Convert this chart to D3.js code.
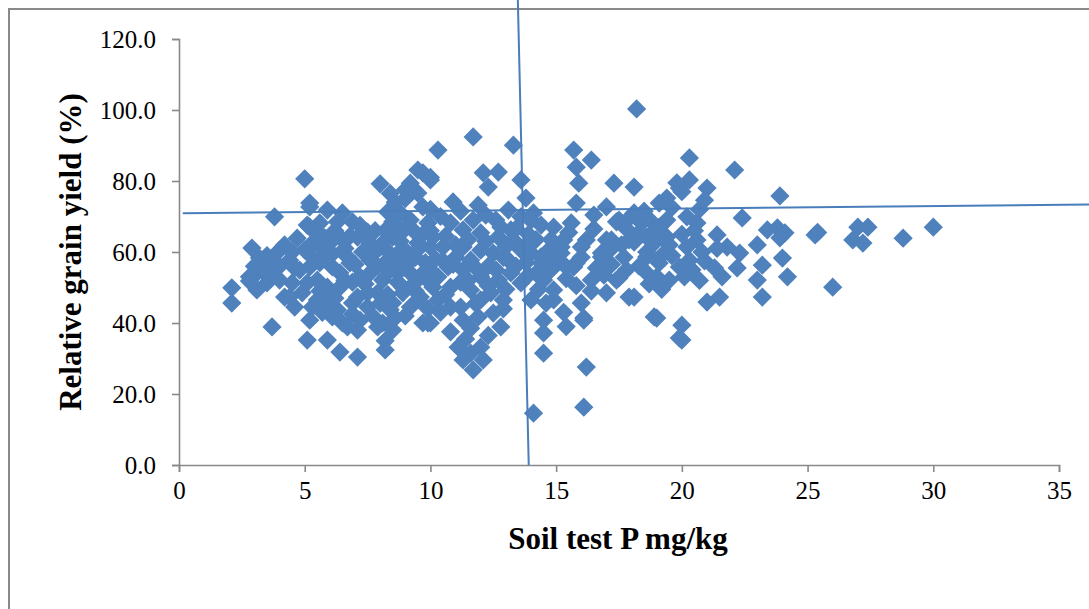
<!DOCTYPE html>
<html><head><meta charset="utf-8">
<script src="https://cdn.jsdelivr.net/npm/d3@7"></script>
<style>
html,body{margin:0;padding:0;background:#fff;overflow:hidden}
svg{display:block}
</style></head><body>
<svg id="c" width="1089" height="609"></svg>
<script>
const xTicks = [0,5,10,15,20,25,30,35];
const yTicks = [0,20,40,60,80,100,120];
const xTitle = "Soil test P mg/kg";
const yTitle = "Relative grain yield (%)";
// vertical critical-level line and horizontal trend line, [soil P, yield]
const vLine = [[13.91,0],[13.47,133]];
const hLine = [[0.15,70.9],[36.6,73.4]];
// observations [soil test P (mg/kg), relative grain yield (%)]
const lowP = [[2.1,45.6],[2.1,49.9],[2.8,53.0],[2.9,61.1],[3.2,58.3],[3.1,49.3],[2.9,52.7],[3.4,54.1],[3.7,38.9],[3.8,69.9],[3.8,56.9],[3.5,51.3],[4.2,62.0],[4.7,63.9],[4.2,47.3],[4.6,44.5],[4.9,48.5],[4.5,51.3],[4.4,47.3],[4.0,52.1],[4.8,54.9],[5.0,80.6],[5.1,35.2],[5.2,73.8],[5.2,72.7],[5.1,67.6],[5.6,68.2],[5.2,67.0],[5.3,62.5],[5.2,55.8],[5.5,52.1],[5.1,51.3],[5.3,44.5],[5.5,46.5],[5.0,60.6],[5.2,59.2],[5.2,40.8],[3.6,54.4],[4.4,57.7],[3.3,55.5],[2.8,51.8]];
const midLowP = [[5.9,71.8],[6.5,71.0],[6.9,68.5],[5.9,59.7],[5.9,50.1],[5.9,48.5],[5.9,35.2],[6.4,31.8],[7.1,30.4],[6.5,40.0],[6.3,43.7],[6.9,45.6],[7.5,48.5],[7.5,65.6],[7.6,57.7],[6.8,56.9],[6.4,54.1],[7.2,53.0],[7.6,62.5],[6.7,58.6],[7.1,64.2],[6.1,55.8],[6.1,41.7],[6.7,38.9],[7.2,40.8],[7.5,44.5],[7.1,47.3],[7.9,48.5],[7.1,38.0],[7.9,38.9],[6.4,50.1],[7.6,54.1],[6.0,62.5],[6.6,61.0],[7.3,60.0],[6.2,66.0],[5.8,64.0],[6.9,51.5],[6.2,47.0]];
const midP = [[8.0,79.2],[9.2,79.4],[9.7,82.3],[9.5,83.1],[10.0,80.3],[9.5,76.6],[9.7,72.7],[9.2,69.0],[8.7,67.0],[8.3,71.3],[8.8,71.0],[9.9,68.2],[8.1,62.5],[8.0,61.4],[9.1,59.7],[8.5,64.2],[9.5,62.5],[9.6,61.4],[9.2,57.7],[8.7,54.1],[8.1,52.1],[8.4,54.9],[9.2,54.1],[10.0,54.9],[8.9,50.1],[8.9,48.5],[9.5,46.5],[9.6,47.3],[8.5,45.6],[9.2,44.5],[8.4,43.7],[9.7,40.0],[9.9,40.0],[8.1,40.0],[8.5,38.0],[8.2,32.4],[8.2,35.0],[8.6,58.0],[9.4,65.5],[8.9,61.0],[8.2,57.0],[9.8,57.0],[9.0,75.0],[8.6,74.0],[9.9,52.0],[8.3,48.0],[9.4,51.5]];
const midHighP = [[10.3,88.7],[11.7,92.4],[10.0,81.0],[12.1,82.3],[12.7,82.5],[12.3,78.3],[10.9,74.1],[11.9,73.2],[12.2,70.4],[10.8,68.2],[11.3,66.2],[11.7,69.0],[10.0,66.0],[12.0,65.4],[11.3,61.4],[10.5,61.4],[10.0,61.4],[10.7,55.8],[11.6,57.7],[12.5,59.7],[11.3,54.9],[10.3,53.0],[12.0,53.0],[10.8,50.1],[11.6,49.3],[12.4,48.5],[10.3,46.5],[10.8,44.5],[11.9,41.7],[11.3,40.8],[10.0,40.0],[12.5,42.8],[11.1,33.2],[11.6,31.5],[12.0,33.2],[12.1,29.6],[11.7,26.8],[11.3,29.6],[10.1,64.2],[10.1,50.1],[11.0,58.5],[12.2,63.0],[10.5,57.5],[11.8,45.5],[12.3,56.0],[10.6,48.0],[11.2,51.5]];
const nearCritP = [[13.3,90.1],[13.6,80.3],[13.8,75.2],[13.1,71.8],[13.6,69.9],[14.1,71.0],[14.0,68.9],[14.4,67.6],[13.2,66.2],[12.7,64.2],[13.3,63.4],[13.6,60.6],[13.1,57.7],[14.0,59.7],[14.4,56.9],[14.9,67.0],[15.2,61.4],[15.0,57.7],[14.4,58.6],[14.5,52.1],[14.9,49.3],[14.0,46.5],[14.6,45.6],[14.5,40.8],[14.5,37.2],[14.5,31.5],[13.6,51.3],[13.2,54.1],[12.7,52.1],[12.9,46.5],[12.8,38.9],[14.1,14.6],[14.9,46.5],[13.0,61.5],[14.8,55.0]];
const aboveCritP = [[15.7,88.7],[16.4,85.9],[15.8,83.9],[15.9,79.4],[17.3,79.4],[15.8,73.8],[16.5,70.4],[17.0,72.7],[17.5,69.0],[17.4,68.5],[15.6,68.2],[15.3,63.4],[16.2,63.4],[17.0,63.4],[17.2,63.4],[15.2,59.7],[15.8,56.9],[16.8,58.6],[16.8,59.7],[16.4,52.1],[17.4,52.1],[17.5,52.7],[17.0,48.5],[15.4,55.8],[15.7,55.8],[16.0,45.6],[16.1,41.4],[16.1,40.8],[16.2,27.6],[16.1,16.3],[16.0,61.4],[15.4,52.5],[16.4,49.0],[15.3,43.0],[15.4,39.0],[17.2,61.0]];
const highP = [[18.2,100.3],[18.1,78.3],[18.1,71.0],[17.9,63.4],[18.1,62.8],[17.9,47.3],[18.1,47.3],[18.4,68.2],[19.1,67.0],[19.4,64.2],[19.3,64.2],[18.6,64.2],[18.6,58.6],[19.1,56.9],[18.6,54.1],[19.0,53.0],[19.5,52.1],[19.9,55.8],[20.3,57.7],[20.2,61.4],[20.1,53.0],[19.0,41.4],[18.9,41.7],[20.0,39.4],[20.0,35.2],[19.9,35.8],[20.3,86.5],[20.3,80.3],[19.9,78.0],[19.4,75.2],[19.1,73.8],[20.2,69.9],[20.6,68.2],[20.6,63.4],[19.8,79.5],[20.0,77.0],[19.6,72.5],[18.8,68.5],[18.6,60.0],[19.2,59.0],[18.3,56.0],[19.5,62.0],[20.4,55.0],[18.9,66.0],[17.9,69.5]];
const veryHighP = [[22.1,83.1],[21.0,78.0],[20.9,74.6],[23.9,75.8],[22.4,69.6],[21.4,64.8],[21.8,61.4],[22.3,59.7],[23.0,62.0],[23.4,66.2],[23.8,66.8],[24.1,65.4],[23.9,64.0],[25.3,64.8],[25.4,65.5],[27.0,67.0],[27.4,67.0],[26.8,63.4],[27.2,62.5],[28.8,63.9],[30.0,67.0],[26.0,50.1],[24.0,58.3],[24.2,53.0],[23.2,56.3],[23.0,52.1],[23.2,47.3],[21.6,53.0],[21.0,45.9],[21.5,47.3],[22.2,55.5],[21.4,61.0],[20.8,60.0],[20.9,57.5],[21.3,55.5],[20.7,52.0]];
// overlapping observations in the dense core
const coreP = [[3.5,59],[4.0,56],[4.5,60],[4.0,60.5],[3.0,56],[4.6,55.5],[5.6,57],[5.7,61],[5.6,65],[6.3,68.5],[6.8,64.5],[7.2,67.5],[7.8,66],[6.5,63.5],[6.1,59.5],[7.0,56.5],[7.8,60],[7.9,56],[6.6,52],[7.4,51],[5.6,49],[6.9,42.5],[7.7,42],[5.7,43],[6.0,45.5],[8.5,68.5],[9.0,66.5],[9.7,65],[8.2,66],[8.8,63],[9.4,58.5],[8.4,59.5],[9.0,56],[9.7,54],[8.7,51.5],[9.4,49],[8.0,45.5],[9.0,42],[8.6,41.5],[9.9,44],[10.0,72],[8.4,76.5],[9.0,77.5],[10.4,70],[11.2,71.5],[12.6,69],[10.6,64.5],[11.5,63.5],[12.8,67],[11.0,62],[12.0,60.5],[12.9,58.5],[10.9,56.5],[11.8,55.5],[12.6,55],[11.5,52],[12.3,50.5],[13.0,49.5],[10.4,43],[11.2,44.5],[12.0,46.5],[11.6,38.5],[10.8,37.5],[12.3,36.5],[11.4,35.5],[10.2,58],[12.9,44],[13.4,66.5],[13.9,65.0],[14.2,63.5],[13.8,57],[13.4,56],[14.2,54],[14.7,60.5],[13.9,53.5],[14.3,49.5],[14.8,63.5],[13.9,62.5],[15.5,65.5],[16.5,66.5],[16.0,58.5],[16.6,55.5],[17.2,56.5],[15.8,50.5],[16.9,53.5],[17.7,58.5],[17.6,62],[18.3,65.5],[18.9,62.5],[19.6,59],[20.0,65],[19.4,69],[18.5,71.5],[17.8,66.5],[20.5,66],[20.7,72],[19.2,49.5],[18.7,51],[17.8,55]];

const points = [].concat(lowP, midLowP, midP, midHighP, nearCritP, aboveCritP, highP, veryHighP, coreP);

const svg = d3.select("#c");
const x = d3.scaleLinear().domain([0,35]).range([179,1059]);
const y = d3.scaleLinear().domain([0,120]).range([465,39]);
const axisColor = "#898989";
const blue = "#4F81BD";

// chart border
svg.append("rect").attr("x",9).attr("y",9).attr("width",1200).attr("height",700)
  .attr("fill","none").attr("stroke",axisColor).attr("stroke-width",2);

const gx = svg.append("g").attr("transform","translate(0,465)")
  .call(d3.axisBottom(x).tickValues(xTicks).tickFormat(d3.format("d")).tickSize(7).tickPadding(9));
const gy = svg.append("g").attr("transform","translate(179,0)")
  .call(d3.axisLeft(y).tickValues(yTicks).tickFormat(d3.format(".1f")).tickSize(7).tickPadding(16));
[gx,gy].forEach(g=>{
  g.select(".domain").attr("stroke",axisColor).attr("stroke-width",1.6);
  g.selectAll(".tick line").attr("stroke",axisColor).attr("stroke-width",1.6);
  g.selectAll("text").attr("fill","#000").style("font-family","'Liberation Serif','Times New Roman',serif").style("font-size","25px");
});

const sym = d3.symbol().type(d3.symbolSquare).size(185);
svg.append("g").selectAll("path").data(points).join("path")
  .attr("d", sym)
  .attr("transform", d=>`translate(${x(d[0])},${y(d[1])}) rotate(45)`)
  .attr("fill", blue);

const line = d3.line().x(d=>x(d[0])).y(d=>y(d[1]));
svg.append("path").attr("d", line(hLine)).attr("stroke","#4A7EBB").attr("stroke-width",2).attr("fill","none");
svg.append("path").attr("d", line(vLine)).attr("stroke","#4A7EBB").attr("stroke-width",2).attr("fill","none");

svg.append("text").attr("x",618).attr("y",549).attr("text-anchor","middle")
  .style("font-family","'Liberation Serif','Times New Roman',serif").style("font-weight","bold").style("font-size","31px")
  .text(xTitle);
svg.append("text").attr("transform","translate(81,252) rotate(-90)").attr("text-anchor","middle")
  .style("font-family","'Liberation Serif','Times New Roman',serif").style("font-weight","bold").style("font-size","31px")
  .text(yTitle);
</script></body></html>
